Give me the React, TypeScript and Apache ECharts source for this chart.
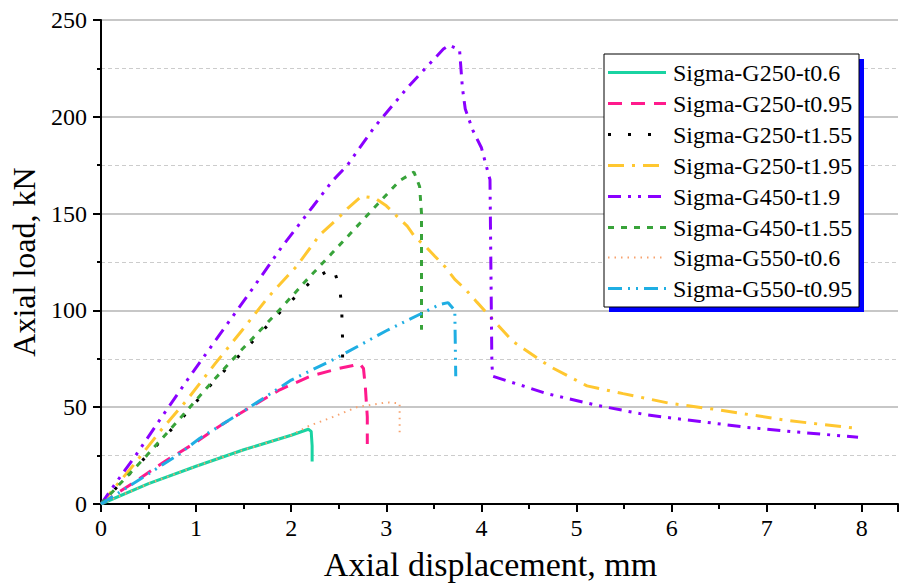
import React, { useEffect, useRef } from "react";
import * as echarts from "echarts";

const seriesNames = [
  "Sigma-G250-t0.6",
  "Sigma-G250-t0.95",
  "Sigma-G250-t1.55",
  "Sigma-G250-t1.95",
  "Sigma-G450-t1.9",
  "Sigma-G450-t1.55",
  "Sigma-G550-t0.6",
  "Sigma-G550-t0.95",
];

const g250t06 = [[0,0],[0.5,10.5],[1,19.5],[1.5,28],[2,35.5],[2.18,38.6],[2.21,37.5],[2.22,30],[2.22,22]];
const g250t095 = [[0,0],[0.38,12.3],[0.67,22],[0.97,31],[1.27,41],[1.57,50],[1.88,59],[2.2,66],[2.5,70],[2.65,71.5],[2.72,72.5],[2.76,70],[2.78,60],[2.8,45],[2.8,31]];
const g250t155 = [[0,0],[0.6,31],[0.9,47],[1.18,63],[1.48,78],[1.92,101],[2.23,116],[2.44,122],[2.51,112],[2.53,102],[2.54,85],[2.54,70]];
const g250t195 = [[0,0],[0.34,20],[0.62,37.5],[0.9,53.5],[1.2,72.5],[1.48,89.5],[1.76,107],[2.06,123],[2.3,139],[2.5,148],[2.6,153],[2.74,159],[2.88,158],[3.0,154],[3.11,148.7],[3.22,143.5],[3.3,138],[3.42,132.7],[3.51,128],[3.62,122.4],[3.72,116],[3.83,111],[3.95,104.4],[4.33,84],[4.72,71],[5.11,61],[5.49,57],[5.98,52],[6.44,49],[7.24,43],[7.96,39]];
const g450t19 = [[0,0],[0.23,16],[0.36,24.7],[0.65,45.8],[0.97,68.4],[1.27,89],[1.59,111],[1.9,132.7],[2.23,153.8],[2.43,166.7],[2.59,175],[2.88,195],[3.23,215.5],[3.6,235],[3.66,237],[3.77,234.6],[3.78,228],[3.8,215],[3.83,204],[3.91,193],[4.0,184],[4.09,167.5],[4.1,120],[4.11,72],[4.12,66],[4.69,57],[5.21,51],[5.74,46],[6.3,42.6],[6.79,39.6],[7.35,37],[7.96,34.5]];
const g450t155 = [[0,0],[0.48,25],[0.9,48],[1.13,61],[1.46,78.7],[1.69,90.5],[1.91,102],[2.13,114],[2.36,126],[2.59,138],[2.91,155],[3.14,167],[3.29,171.5],[3.35,164],[3.37,150],[3.37,90]];
const g550t06 = [[0,0],[0.5,10.5],[1,19.5],[1.5,28],[2,35.5],[2.17,40],[2.44,45],[2.69,50],[3.0,52.5],[3.14,52],[3.14,36]];
const g550t095 = [[0,0],[0.8,25],[1.04,34],[1.5,48],[2,64],[2.46,75],[3.0,89.5],[3.56,103],[3.65,104],[3.72,100],[3.73,66]];

const seriesData = [g250t06, g250t095, g250t155, g250t195, g450t19, g450t155, g550t06, g550t095];

const colors = ["#19D3A2", "#FF1A8C", "#000000", "#FFC730", "#8A00FF", "#38A33A", "#F7A26E", "#1FAEE3"];
const dashes: any[] = [
  "solid",
  [14, 9],
  [3, 17],
  [16, 8, 3, 8],
  [13, 7, 3, 7, 3, 7],
  [6, 7],
  [1.5, 5],
  [14, 6, 2, 6, 2, 6],
];
const widths = [3, 3, 3, 3, 3, 3, 2, 3];

const FONT = "'Liberation Serif', 'Times New Roman', serif";

// legend box geometry (pixels)
const LEG_X = 604;
const LEG_Y = 54;
const LEG_W = 255;
const LEG_H = 253;
const ROW0 = 72;
const ROW_STEP = 30.9;

export default function App() {
  const ref = useRef<HTMLDivElement>(null);
  useEffect(() => {
    if (!ref.current) return;
    const chart = echarts.init(ref.current, null, { renderer: "svg" });

    const legendGraphics: any[] = [
      {
        type: "rect",
        z: 100,
        shape: { x: LEG_X + 5, y: LEG_Y + 5, width: LEG_W, height: LEG_H },
        style: { fill: "#0000ff" },
      },
      {
        type: "rect",
        z: 101,
        shape: { x: LEG_X, y: LEG_Y, width: LEG_W, height: LEG_H },
        style: { fill: "#ffffff", stroke: "#000000", lineWidth: 1 },
      },
    ];
    seriesNames.forEach((name, i) => {
      const cy = Math.round(ROW0 + i * ROW_STEP) + 0.5;
      legendGraphics.push({
        type: "line",
        z: 102,
        shape: { x1: LEG_X + 4, y1: cy, x2: LEG_X + 62, y2: cy },
        style: {
          stroke: colors[i],
          lineWidth: widths[i],
          lineDash: dashes[i] === "solid" ? null : dashes[i],
          lineCap: "butt",
        },
      });
      legendGraphics.push({
        type: "text",
        z: 102,
        x: LEG_X + 69,
        y: cy,
        style: {
          text: name,
          fontFamily: FONT,
          fontSize: 24,
          fill: "#000",
          verticalAlign: "middle",
          align: "left",
        },
      });
    });

    const option: any = {
      animation: false,
      backgroundColor: "#ffffff",
      textStyle: { fontFamily: FONT, color: "#000" },
      grid: { left: 101, right: 1, top: 20, bottom: 80 },
      xAxis: {
        type: "value",
        min: 0,
        max: 8.38,
        interval: 1,
        name: "Axial displacement, mm",
        nameLocation: "middle",
        nameGap: 43,
        nameTextStyle: { fontFamily: FONT, fontSize: 34, color: "#000", padding: [0, 18, 0, 0] },
        axisLine: { show: true, onZero: false, lineStyle: { color: "#000", width: 2 } },
        axisTick: { show: true, inside: false, length: 8, lineStyle: { color: "#000", width: 2 } },
        minorTick: { show: true, splitNumber: 2, length: 5, lineStyle: { color: "#000", width: 2 } },
        splitLine: { show: false },
        axisLabel: { fontFamily: FONT, fontSize: 24, color: "#000", margin: 12, showMaxLabel: false },
      },
      yAxis: {
        type: "value",
        min: 0,
        max: 250,
        interval: 50,
        name: "Axial load, kN",
        nameLocation: "middle",
        nameGap: 56,
        nameTextStyle: { fontFamily: FONT, fontSize: 32, color: "#000" },
        axisLine: { show: true, onZero: false, lineStyle: { color: "#000", width: 2 } },
        axisTick: { show: true, inside: false, length: 8, lineStyle: { color: "#000", width: 2 } },
        minorTick: { show: true, splitNumber: 2, length: 4, lineStyle: { color: "#000", width: 2 } },
        splitLine: { show: true, lineStyle: { color: "#b4b4b4", width: 1.5 } },
        minorSplitLine: { show: true, lineStyle: { color: "#cccccc", width: 1, type: [4, 3] } },
        axisLabel: { fontFamily: FONT, fontSize: 24, color: "#000", margin: 14 },
      },
      legend: { show: false },
      graphic: legendGraphics,
      series: seriesNames.map((name, i) => ({
        name,
        type: "line",
        data: seriesData[i],
        symbol: "none",
        showSymbol: false,
        color: colors[i],
        lineStyle: { color: colors[i], width: widths[i], type: dashes[i], cap: "butt" },
        z: 2 + i * 0.01,
      })),
    };
    chart.setOption(option);
    return () => chart.dispose();
  }, []);
  return (
    <div
      ref={ref}
      style={{ position: "fixed", left: 0, top: 0, width: 899, height: 586, background: "#fff" }}
    />
  );
}
